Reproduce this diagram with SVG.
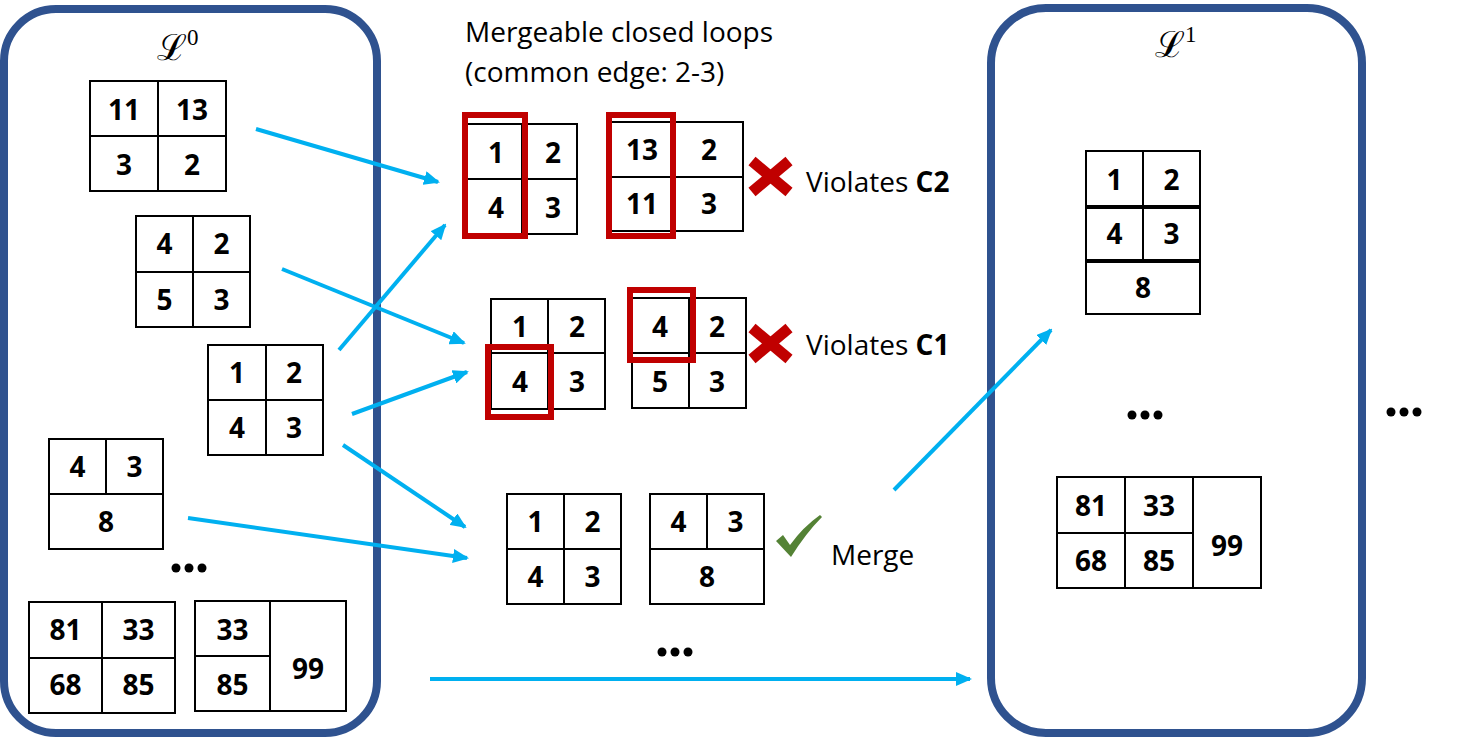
<svg xmlns="http://www.w3.org/2000/svg" width="1460" height="739" viewBox="0 0 1460 739">
<style>
.cont{fill:none;stroke:#2F528F;stroke-width:8}
.g rect,.g line{fill:none;stroke:#000;stroke-width:2}
.g rect.red{fill:none;stroke:#C00000;stroke-width:6}
.n{font-family:"Open Sans",sans-serif;font-weight:bold;font-size:28px;text-anchor:middle;fill:#000}
.t{font-family:"Open Sans",sans-serif;font-size:28px;fill:#000}
.lab{font-family:"DejaVu Serif",serif;font-size:36px;fill:#000}
.sup{font-family:"Liberation Serif",serif;font-size:23px}
.arr{stroke:#00B0F0;stroke-width:4;fill:none;marker-end:url(#ah)}
.dots{fill:#000}
.x{stroke:#C00000;stroke-width:11;stroke-linecap:butt}
</style>
<defs>
<marker id="ah" markerUnits="userSpaceOnUse" viewBox="0 0 16 14" markerWidth="16" markerHeight="14" refX="14" refY="7" orient="auto">
<path d="M0,0 L16,7 L0,14 Z" fill="#00B0F0"/>
</marker>
</defs>
<rect width="1460" height="739" fill="#fff"/>

<g id="container-L0">
<rect class="cont" x="4" y="9" width="373" height="724" rx="52"/>
<text class="lab" x="157" y="60">ℒ<tspan class="sup" dy="-15">0</tspan></text>
</g>
<g id="container-L1">
<rect class="cont" x="991" y="8" width="371" height="725" rx="55"/>
<text class="lab" x="1155" y="57">ℒ<tspan class="sup" dy="-15">1</tspan></text>
</g>

<g id="loop-11-13-3-2" class="g">
<rect x="90" y="81" width="136" height="110"/>
<line x1="158" y1="81" x2="158" y2="191"/><line x1="90" y1="136" x2="226" y2="136"/>
<text class="n" x="124" y="120">11</text><text class="n" x="192" y="120">13</text>
<text class="n" x="124" y="175">3</text><text class="n" x="192" y="175">2</text>
</g>
<g id="loop-4-2-5-3" class="g">
<rect x="136" y="216" width="114" height="111"/>
<line x1="193" y1="216" x2="193" y2="327"/><line x1="136" y1="272" x2="250" y2="272"/>
<text class="n" x="164.5" y="254">4</text><text class="n" x="221.5" y="254">2</text>
<text class="n" x="164.5" y="310">5</text><text class="n" x="221.5" y="310">3</text>
</g>
<g id="loop-1-2-4-3" class="g">
<rect x="208" y="345" width="115" height="110"/>
<line x1="266" y1="345" x2="266" y2="455"/><line x1="208" y1="400" x2="323" y2="400"/>
<text class="n" x="237" y="383">1</text><text class="n" x="294" y="383">2</text>
<text class="n" x="237" y="438">4</text><text class="n" x="294" y="438">3</text>
</g>
<g id="loop-4-3-8" class="g">
<rect x="49" y="439" width="114" height="110"/>
<line x1="106" y1="439" x2="106" y2="494"/><line x1="49" y1="494" x2="163" y2="494"/>
<text class="n" x="77.5" y="477">4</text><text class="n" x="134.5" y="477">3</text>
<text class="n" x="106" y="532">8</text>
</g>
<g id="dots-left"><circle class="dots" cx="176" cy="568" r="4.5"/><circle class="dots" cx="189" cy="568" r="4.5"/><circle class="dots" cx="202" cy="568" r="4.5"/></g>
<g id="loop-81-33-68-85" class="g">
<rect x="29" y="602" width="146" height="111"/>
<line x1="102" y1="602" x2="102" y2="713"/><line x1="29" y1="658" x2="175" y2="658"/>
<text class="n" x="65.5" y="640">81</text><text class="n" x="138.5" y="640">33</text>
<text class="n" x="65.5" y="695">68</text><text class="n" x="138.5" y="695">85</text>
</g>
<g id="loop-33-85-99" class="g">
<rect x="195" y="601" width="151" height="110"/>
<line x1="270" y1="601" x2="270" y2="711"/><line x1="195" y1="656" x2="270" y2="656"/>
<text class="n" x="232.5" y="640">33</text><text class="n" x="232.5" y="695">85</text>
<text class="n" x="308" y="679">99</text>
</g>

<g id="title">
<text class="t" x="465" y="42">Mergeable closed loops</text>
<text class="t" x="465" y="82">(common edge: 2-3)</text>
</g>

<g id="pair-c2-a" class="g">
<rect x="467" y="124" width="110" height="110"/>
<line x1="522" y1="124" x2="522" y2="234"/><line x1="467" y1="179" x2="577" y2="179"/>
<text class="n" x="496" y="163">1</text><text class="n" x="553" y="163">2</text>
<text class="n" x="496" y="218">4</text><text class="n" x="553" y="218">3</text>
<rect class="red" x="465" y="115" width="60" height="121"/>
</g>
<g id="pair-c2-b" class="g">
<rect x="611" y="122" width="132" height="109"/>
<line x1="674" y1="122" x2="674" y2="231"/><line x1="611" y1="177" x2="743" y2="177"/>
<text class="n" x="642" y="160">13</text><text class="n" x="709" y="160">2</text>
<text class="n" x="642" y="214">11</text><text class="n" x="709" y="214">3</text>
<rect class="red" x="609" y="115" width="64" height="121"/>
</g>
<g id="verdict-c2">
<line class="x" x1="752" y1="161" x2="789" y2="192"/><line class="x" x1="752" y1="192" x2="789" y2="161"/>
<text class="t" x="806" y="192">Violates <tspan font-weight="bold">C2</tspan></text>
</g>

<g id="pair-c1-a" class="g">
<rect x="491" y="299" width="114" height="110"/>
<line x1="548" y1="299" x2="548" y2="409"/><line x1="491" y1="353" x2="605" y2="353"/>
<text class="n" x="520" y="337">1</text><text class="n" x="577" y="337">2</text>
<text class="n" x="520" y="392">4</text><text class="n" x="577" y="392">3</text>
<rect class="red" x="488" y="347" width="63" height="70"/>
</g>
<g id="pair-c1-b" class="g">
<rect x="632" y="298" width="114" height="110"/>
<line x1="689" y1="298" x2="689" y2="408"/><line x1="632" y1="353" x2="746" y2="353"/>
<text class="n" x="660" y="337">4</text><text class="n" x="717" y="337">2</text>
<text class="n" x="660" y="392">5</text><text class="n" x="717" y="392">3</text>
<rect class="red" x="630" y="290" width="63" height="70"/>
</g>
<g id="verdict-c1">
<line class="x" x1="752" y1="328" x2="789" y2="359"/><line class="x" x1="752" y1="359" x2="789" y2="328"/>
<text class="t" x="806" y="355">Violates <tspan font-weight="bold">C1</tspan></text>
</g>

<g id="pair-merge-a" class="g">
<rect x="507" y="494" width="114" height="110"/>
<line x1="564" y1="494" x2="564" y2="604"/><line x1="507" y1="549" x2="621" y2="549"/>
<text class="n" x="535.5" y="532">1</text><text class="n" x="592.5" y="532">2</text>
<text class="n" x="535.5" y="587">4</text><text class="n" x="592.5" y="587">3</text>
</g>
<g id="pair-merge-b" class="g">
<rect x="650" y="494" width="114" height="110"/>
<line x1="707" y1="494" x2="707" y2="549"/><line x1="650" y1="549" x2="764" y2="549"/>
<text class="n" x="678.5" y="532">4</text><text class="n" x="735.5" y="532">3</text>
<text class="n" x="707" y="587">8</text>
</g>
<g id="verdict-merge">
<path d="M776,541 L783,535 L790,545 Q803,527 820,515 L822,517 Q806,533 791,557 Z" fill="#548235"/>
<text class="t" x="831" y="565">Merge</text>
</g>
<g id="dots-mid"><circle class="dots" cx="662" cy="652" r="4.5"/><circle class="dots" cx="675" cy="652" r="4.5"/><circle class="dots" cx="688" cy="652" r="4.5"/></g>

<g id="merged-1-2-4-3-8" class="g">
<rect x="1086" y="151" width="114" height="163"/>
<line x1="1143" y1="151" x2="1143" y2="260"/>
<line x1="1086" y1="206" x2="1200" y2="206"/><line x1="1086" y1="208" x2="1200" y2="208"/>
<line x1="1086" y1="260" x2="1200" y2="260"/><line x1="1086" y1="262" x2="1200" y2="262"/>
<text class="n" x="1114.5" y="190">1</text><text class="n" x="1171.5" y="190">2</text>
<text class="n" x="1114.5" y="244">4</text><text class="n" x="1171.5" y="244">3</text>
<text class="n" x="1143" y="298">8</text>
</g>
<g id="dots-right-in"><circle class="dots" cx="1132" cy="415" r="4.5"/><circle class="dots" cx="1145" cy="415" r="4.5"/><circle class="dots" cx="1158" cy="415" r="4.5"/></g>
<g id="merged-81-33-68-85-99" class="g">
<rect x="1057" y="477" width="204" height="111"/>
<line x1="1125" y1="477" x2="1125" y2="588"/><line x1="1193" y1="477" x2="1193" y2="588"/>
<line x1="1057" y1="533" x2="1193" y2="533"/>
<text class="n" x="1091" y="516">81</text><text class="n" x="1159" y="516">33</text>
<text class="n" x="1091" y="571">68</text><text class="n" x="1159" y="571">85</text>
<text class="n" x="1227" y="556">99</text>
</g>
<g id="dots-right-out"><circle class="dots" cx="1391" cy="412" r="4.5"/><circle class="dots" cx="1404" cy="412" r="4.5"/><circle class="dots" cx="1417" cy="412" r="4.5"/></g>

<g id="connectors">
<line class="arr" x1="256" y1="129" x2="438" y2="182"/>
<line class="arr" x1="282" y1="269" x2="464" y2="343"/>
<line class="arr" x1="339" y1="350" x2="445" y2="225"/>
<line class="arr" x1="352" y1="414" x2="467" y2="372"/>
<line class="arr" x1="343" y1="445" x2="465" y2="527"/>
<line class="arr" x1="188" y1="518" x2="467" y2="558"/>
<line class="arr" x1="894" y1="490" x2="1051" y2="330"/>
<line class="arr" x1="430" y1="679" x2="970" y2="679"/>
</g>
</svg>
